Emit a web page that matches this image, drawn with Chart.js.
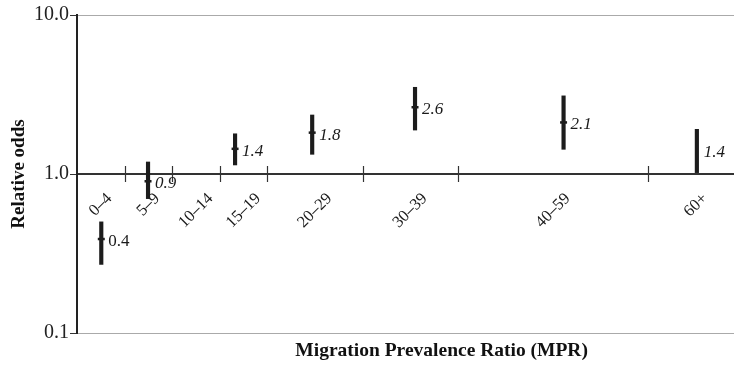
<!DOCTYPE html>
<html>
<head>
<meta charset="utf-8">
<script src="https://cdn.jsdelivr.net/npm/chart.js@4"></script>
<style>
  html, body { margin: 0; padding: 0; background: #fff; }
</style>
</head>
<body>
<canvas id="myChart" width="734" height="373"></canvas>
<script>
// MPR groups (10–14 is the reference group, so it has no estimate)
const categories = ['0–4', '5–9', '10–14', '15–19', '20–29', '30–39', '40–59', '60+'];
const groupBounds = [0, 5, 10, 15, 20, 30, 40, 60, 70];
const mprMean = [2.55, 7.46, null, 16.6, 24.7, 35.5, 51.1, 65.1];
const oddsRatio = [0.39, 0.90, null, 1.44, 1.82, 2.63, 2.11, 1.41];
const ciLow = [0.27, 0.70, null, 1.14, 1.33, 1.89, 1.43, 1.02];
const ciHigh = [0.50, 1.19, null, 1.79, 2.35, 3.51, 3.10, 1.91];
const yTicks = [0.1, 1, 10];

const serif = '"Liberation Serif", "Times New Roman", serif';

// only groups that have an estimate
const idx = categories.map((c, i) => i).filter(i => oddsRatio[i] !== null);

// tick marks, group labels, estimate labels and x title
const mprAxisPlugin = {
  id: 'mprAxis',
  afterDraw(chart) {
    const { ctx, chartArea, scales: { x, y } } = chart;
    const y1 = y.getPixelForValue(1);
    ctx.save();

    // tick marks at the group boundaries, crossing the axis
    ctx.strokeStyle = '#333';
    ctx.lineWidth = 1.2;
    groupBounds.slice(1, -1).forEach(b => {
      const px = Math.round(x.getPixelForValue(b)) + 0.5;
      ctx.beginPath();
      ctx.moveTo(px, y1 - 8);
      ctx.lineTo(px, y1 + 8);
      ctx.stroke();
    });

    // group labels, rotated 45 degrees
    ctx.fillStyle = '#1a1a1a';
    ctx.font = '16.5px ' + serif;
    ctx.textAlign = 'center';
    ctx.textBaseline = 'middle';
    categories.forEach((c, i) => {
      const mid = (groupBounds[i] + groupBounds[i + 1]) / 2;
      const w = ctx.measureText(c).width;
      ctx.save();
      ctx.translate(x.getPixelForValue(mid), y1 + 22 + w * 0.354);
      ctx.rotate(-Math.PI / 4);
      ctx.fillText(c, 0, 0);
      ctx.restore();
    });

    // estimate labels next to each bar
    ctx.textAlign = 'left';
    idx.forEach((i, k) => {
      ctx.font = (k === 0 ? '' : 'italic ') + '17px ' + serif;
      ctx.fillText(oddsRatio[i].toFixed(1),
        x.getPixelForValue(mprMean[i]) + 7,
        y.getPixelForValue(oddsRatio[i]) + 2.5);
    });

    // x axis title
    ctx.textAlign = 'center';
    ctx.font = 'bold 19.5px ' + serif;
    ctx.fillStyle = '#111';
    ctx.fillText('Migration Prevalence Ratio (MPR)',
      chartArea.left + (chartArea.right - chartArea.left) * 0.555, 351);
    ctx.restore();
  }
};

const ctx = document.getElementById('myChart').getContext('2d');

const myChart = new Chart(ctx, {
  type: 'bar',
  data: {
    datasets: [
      {
        // confidence intervals
        label: 'CI',
        data: idx.map(i => ({ x: mprMean[i], y: [ciLow[i], ciHigh[i]] })),
        backgroundColor: '#1c1c1c',
        borderWidth: 0,
        barThickness: 3.5
      },
      {
        // point estimates
        type: 'scatter',
        label: 'Relative odds',
        data: idx.map(i => ({ x: mprMean[i], y: oddsRatio[i] })),
        pointStyle: 'line',
        pointRadius: c => (c.dataIndex === idx.length - 1 ? 0 : 3.5),
        borderColor: '#1c1c1c',
        borderWidth: 2.5
      }
    ]
  },
  options: {
    responsive: false,
    animation: false,
    layout: { autoPadding: false, padding: { top: 15, bottom: 40, left: 0, right: 0 } },
    plugins: {
      legend: { display: false },
      tooltip: { enabled: false }
    },
    scales: {
      x: {
        type: 'linear',
        position: { y: 1 },
        offset: false,
        min: 0,
        max: 69,
        ticks: { display: false },
        grid: { display: true, drawOnChartArea: false, drawTicks: false },
        border: { color: '#333', width: 1.5 }
      },
      y: {
        type: 'logarithmic',
        min: 0.1,
        max: 10,
        afterBuildTicks: s => { s.ticks = yTicks.map(v => ({ value: v })); },
        afterFit: s => { s.width = 77; },
        ticks: {
          autoSkip: false,
          padding: 1,
          color: '#222',
          font: { family: serif, size: 20 },
          callback: v => Number(v).toFixed(1)
        },
        grid: {
          color: c => (c.tick && c.tick.value === 1 ? '#333' : '#aaa'),
          tickColor: '#333',
          tickLength: 7,
          lineWidth: 1
        },
        border: { color: '#222', width: 2 },
        title: {
          display: true,
          text: 'Relative odds',
          color: '#111',
          font: { family: serif, size: 19, weight: 'bold' },
          padding: { top: 8, bottom: 0 }
        }
      }
    }
  },
  plugins: [mprAxisPlugin]
});
</script>
</body>
</html>
